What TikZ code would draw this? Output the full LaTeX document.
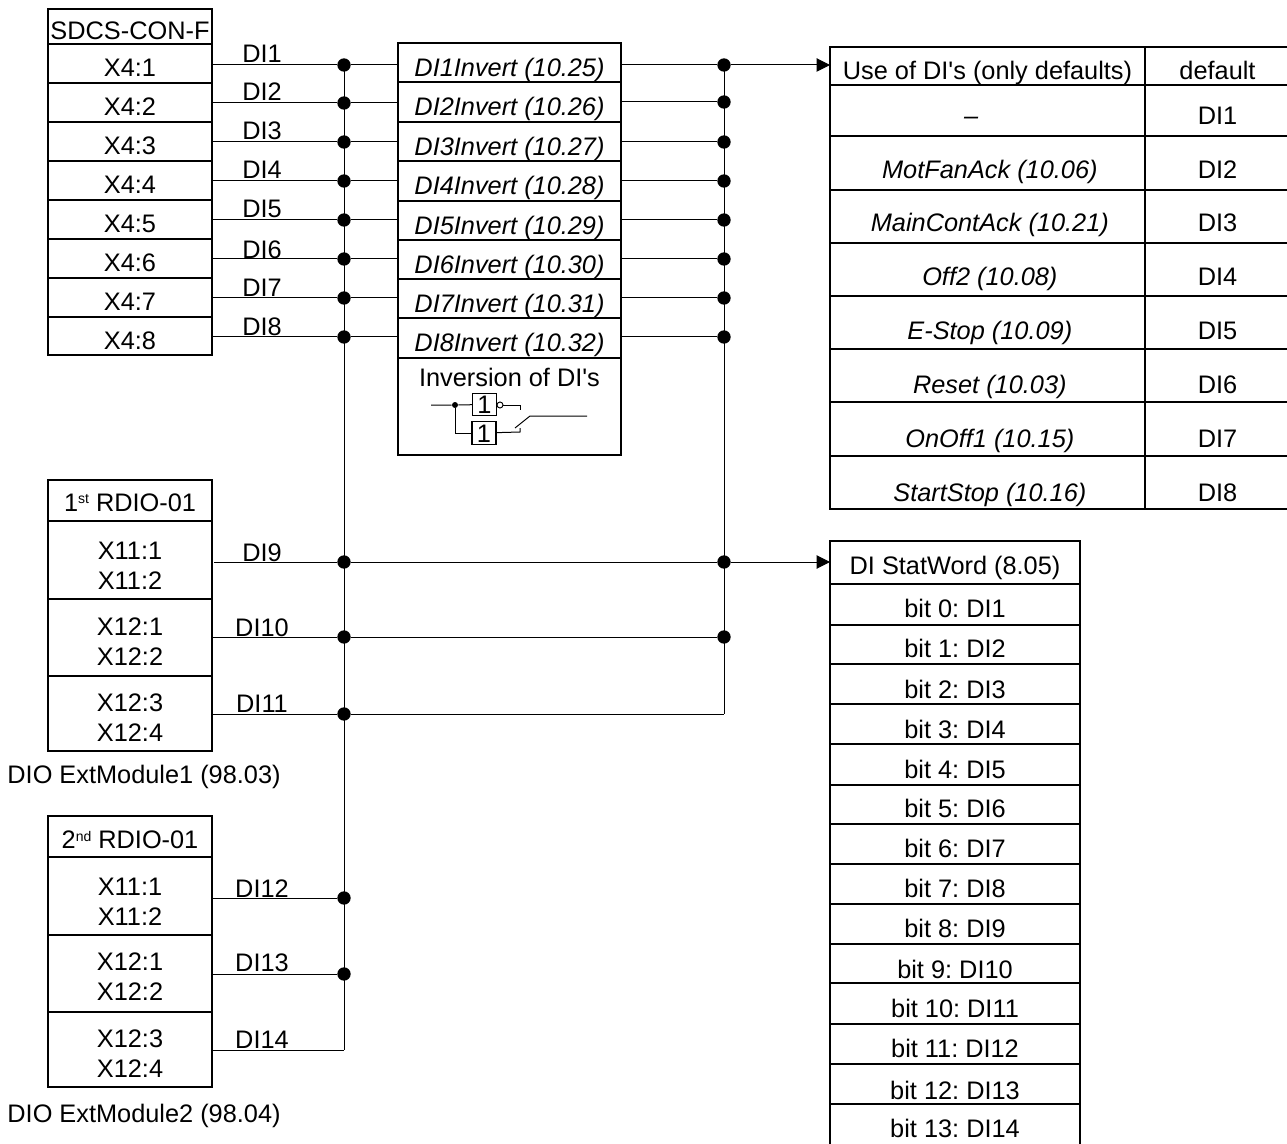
\documentclass[tikz,border=0pt]{standalone}
\usepackage{fontspec}
\setmainfont{Liberation Sans}[Ligatures=TeXOff]
\usetikzlibrary{arrows.meta}

\tikzset{
  wire/.style={line width=0.75pt},
  stub/.style={wire, shorten <=1.5pt},
  dot/.style={circle, fill=black, inner sep=0pt, minimum size=10pt},
  smalldot/.style={circle, fill=black, inner sep=0pt, minimum size=4.5pt},
  cell/.style={draw, line width=0.8pt, rectangle, inner sep=0pt, outer sep=0pt, text height=#1, text depth=0pt},
  cell/.default=20pt,
  conbox/.style={cell, minimum width=123pt},
  invbox/.style={cell=21pt, minimum width=167.25pt},
  headbox/.style={cell=#1, minimum width=236.25pt},
  usebox/.style={cell=#1, minimum width=236.25pt, font=\myfont\itshape, execute at begin node=\hspace*{3.5pt}},
  defbox/.style={cell=#1, minimum width=108.75pt},
  statbox/.style={cell=#1, minimum width=187.5pt},
  rowh/.style={minimum height=#1*0.75pt},
  gatebox/.style={cell=14pt, minimum width=18pt, minimum height=17pt}
}
\newcommand{\myfont}{\fontsize{19}{22.5}\selectfont\frenchspacing}
\newcommand{\upper}[1]{\raisebox{5.8pt}{\fontsize{10.5}{12}\selectfont #1}}

\begin{document}
\begin{tikzpicture}[x=0.75pt, y=-0.75pt, >={Stealth[inset=0pt, length=10pt, width=10pt]},
    every node/.append style={font=\myfont, inner sep=0pt}]

  \useasboundingbox (0,0) rectangle (1287,1144);

  % ============================================================
  % SDCS-CON-F
  % ============================================================

  \node[conbox, rowh=35] (con) at (130,26.5) {SDCS-CON-F};
  \node[conbox, rowh=39] (x1) at (130,63.5) {X4:1};
  \node[conbox, rowh=39] (x2) at (130,102.5) {X4:2};
  \node[conbox, rowh=39] (x3) at (130,141.5) {X4:3};
  \node[conbox, rowh=39] (x4) at (130,180.5) {X4:4};
  \node[conbox, rowh=39] (x5) at (130,219.5) {X4:5};
  \node[conbox, rowh=39] (x6) at (130,258.5) {X4:6};
  \node[conbox, rowh=39] (x7) at (130,297.5) {X4:7};
  \node[conbox, rowh=38] (x8) at (130,336) {X4:8};

  % Labels
  \node (l1) at (262,54) {DI1};
  \node (l2) at (262,92) {DI2};
  \node (l3) at (262,131) {DI3};
  \node (l4) at (262,170) {DI4};
  \node (l5) at (262,209) {DI5};
  \node (l6) at (262,250) {DI6};
  \node (l7) at (262,288) {DI7};
  \node (l8) at (262,327) {DI8};

  % ============================================================
  % Inversion
  % ============================================================

  \node[invbox, rowh=39] (inv1) at (509.5,62.5) {\itshape DI1Invert (10.25)};
  \node[invbox, rowh=40] (inv2) at (509.5,102) {\itshape DI2Invert (10.26)};
  \node[invbox, rowh=39] (inv3) at (509.5,141.5) {\itshape DI3Invert (10.27)};
  \node[invbox, rowh=40] (inv4) at (509.5,181) {\itshape DI4Invert (10.28)};
  \node[invbox, rowh=39] (inv5) at (509.5,220.5) {\itshape DI5Invert (10.29)};
  \node[invbox, rowh=39] (inv6) at (509.5,259.5) {\itshape DI6Invert (10.30)};
  \node[invbox, rowh=39] (inv7) at (509.5,298.5) {\itshape DI7Invert (10.31)};
  \node[invbox, rowh=40] (inv8) at (509.5,338) {\itshape DI8Invert (10.32)};
  \node[cell, minimum width=167.25pt, minimum height=72.75pt] (invnote) at (509.5,406.5) {};
  \node (invtxt) at (509.5,377) {Inversion of DI's};

  % Gate sketch
  \node[smalldot] (gdot) at (455,405) {};
  \node[gatebox] (gate1) at (484.5,404.5) {1};
  \node[gatebox] (gate2) at (484,433) {1};
  \node[circle, draw, line width=0.7pt, inner sep=0pt, minimum size=4.5pt] (gnot) at (500,405) {};
  \coordinate (gin) at (431,405);
  \coordinate (gup) at (520,405);
  \coordinate (gdown) at (520,432);
  \draw[wire] (gin) -- (gdot) -- (gate1);
  \draw[wire] (gdot) |- (gate2);
  \draw[wire] (gnot) -- (gup) -- ++(0,5);
  \draw[wire] (gate2) -- (gdown) -- ++(0,-4);
  \draw[wire] (515,428) -- (530,416) -- (587,416);

  % ============================================================
  % 1st RDIO-01
  % ============================================================

  \node[conbox, rowh=41] (ra) at (130,500.5) {};
  \node (ratxt) at (130,503) {1\upper{st} RDIO-01};
  \node[conbox, rowh=78] (ra1) at (130,560) {};
  \node[align=center] (ra1txt) at (130,566) {X11:1\\X11:2};
  \node[conbox, rowh=77] (ra2) at (130,637.5) {};
  \node[align=center] (ra2txt) at (130,641.5) {X12:1\\X12:2};
  \node[conbox, rowh=75] (ra3) at (130,713.5) {};
  \node[align=center] (ra3txt) at (130,717.5) {X12:3\\X12:4};
  \node (l9) at (262,553) {DI9};
  \node (l10) at (262,628) {DI10};
  \node (l11) at (262,704) {DI11};
  \node (mod1) at (144,777) {DIO ExtModule1 (98.03)};

  % ============================================================
  % 2nd RDIO-01
  % ============================================================

  \node[conbox, rowh=41] (rb) at (130,836.5) {};
  \node (rbtxt) at (130,840) {2\upper{nd} RDIO-01};
  \node[conbox, rowh=78] (rb1) at (130,896) {};
  \node[align=center] (rb1txt) at (130,902) {X11:1\\X11:2};
  \node[conbox, rowh=77] (rb2) at (130,973.5) {};
  \node[align=center] (rb2txt) at (130,977) {X12:1\\X12:2};
  \node[conbox, rowh=75] (rb3) at (130,1049.5) {};
  \node[align=center] (rb3txt) at (130,1053.5) {X12:3\\X12:4};
  \node (l12) at (262,889) {DI12};
  \node (l13) at (262,963) {DI13};
  \node (l14) at (262,1040) {DI14};
  \node (mod2) at (144,1116) {DIO ExtModule2 (98.04)};

  % ============================================================
  % Use of DI's
  % ============================================================

  \node[headbox=19.6pt, rowh=38] (use) at (987.5,66) {Use of DI's (only defaults)};
  \node[defbox=19.6pt, rowh=38] (def) at (1217.5,66) {default};
  \node[usebox=20.4pt, rowh=51] (use1) at (987.5,110.5) {–\hspace*{28pt}};
  \node[defbox=20.4pt, rowh=51] (def1) at (1217.5,110.5) {DI1};
  \node[usebox=23.5pt, rowh=54] (use2) at (987.5,163) {MotFanAck (10.06)};
  \node[defbox=23.5pt, rowh=54] (def2) at (1217.5,163) {DI2};
  \node[usebox=22.8pt, rowh=53] (use3) at (987.5,216.5) {MainContAck (10.21)};
  \node[defbox=22.8pt, rowh=53] (def3) at (1217.5,216.5) {DI3};
  \node[usebox=24.4pt, rowh=53] (use4) at (987.5,269.5) {Off2 (10.08)};
  \node[defbox=24.4pt, rowh=53] (def4) at (1217.5,269.5) {DI4};
  \node[usebox=25.8pt, rowh=53] (use5) at (987.5,322.5) {E-Stop (10.09)};
  \node[defbox=25.8pt, rowh=53] (def5) at (1217.5,322.5) {DI5};
  \node[usebox=26.4pt, rowh=53] (use6) at (987.5,375.5) {Reset (10.03)};
  \node[defbox=26.4pt, rowh=53] (def6) at (1217.5,375.5) {DI6};
  \node[usebox=27.1pt, rowh=54] (use7) at (987.5,429) {OnOff1 (10.15)};
  \node[defbox=27.1pt, rowh=54] (def7) at (1217.5,429) {DI7};
  \node[usebox=27.9pt, rowh=53] (use8) at (987.5,482.5) {StartStop (10.16)};
  \node[defbox=27.9pt, rowh=53] (def8) at (1217.5,482.5) {DI8};

  % ============================================================
  % DI StatWord
  % ============================================================

  \node[statbox=17.4pt, rowh=43] (stat) at (955,562.5) {DI StatWord (8.05)};
  \node[statbox=18.9pt, rowh=41] (b0) at (955,604.5) {bit 0: DI1};
  \node[statbox=18.9pt, rowh=39] (b1) at (955,644.5) {bit 1: DI2};
  \node[statbox=21.1pt, rowh=40] (b2) at (955,684) {bit 2: DI3};
  \node[statbox=21.1pt, rowh=40] (b3) at (955,724) {bit 3: DI4};
  \node[statbox=20.4pt, rowh=41] (b4) at (955,764.5) {bit 4: DI5};
  \node[statbox=18.9pt, rowh=39] (b5) at (955,804.5) {bit 5: DI6};
  \node[statbox=19.6pt, rowh=40] (b6) at (955,844) {bit 6: DI7};
  \node[statbox=19.6pt, rowh=40] (b7) at (955,884) {bit 7: DI8};
  \node[statbox=19.6pt, rowh=40] (b8) at (955,924) {bit 8: DI9};
  \node[statbox=21.9pt, rowh=39] (b9) at (955,963.5) {bit 9: DI10};
  \node[statbox=20.4pt, rowh=41] (b10) at (955,1003.5) {bit 10: DI11};
  \node[statbox=19.6pt, rowh=40] (b11) at (955,1044) {bit 11: DI12};
  \node[statbox=22.6pt, rowh=40] (b12) at (955,1084) {bit 12: DI13};
  \node[statbox=16.6pt, rowh=44] (b13) at (955,1126) {bit 13: DI14};

  % ============================================================
  % Junctions
  % ============================================================

  \node[dot] (j1) at (344,65) {};
  \node[dot] (j2) at (344,103) {};
  \node[dot] (j3) at (344,142) {};
  \node[dot] (j4) at (344,181) {};
  \node[dot] (j5) at (344,220) {};
  \node[dot] (j6) at (344,259) {};
  \node[dot] (j7) at (344,298) {};
  \node[dot] (j8) at (344,337) {};
  \node[dot] (j9) at (344,562) {};
  \node[dot] (j10) at (344,637) {};
  \node[dot] (j11) at (344,714) {};
  \node[dot] (j12) at (344,898) {};
  \node[dot] (j13) at (344,974) {};
  \coordinate (j14) at (344,1050);

  \node[dot] (k1) at (724,65) {};
  \node[dot] (k2) at (724,102) {};
  \node[dot] (k3) at (724,142) {};
  \node[dot] (k4) at (724,181) {};
  \node[dot] (k5) at (724,220) {};
  \node[dot] (k6) at (724,259) {};
  \node[dot] (k7) at (724,298) {};
  \node[dot] (k8) at (724,337) {};
  \node[dot] (k9) at (724,562) {};
  \node[dot] (k10) at (724,637) {};
  \coordinate (k11) at (724,714);

  % ============================================================
  % Wires
  % ============================================================

  % Busses
  \draw[wire] (j1.center) -- (j14);
  \draw[wire] (k1.center) -- (k11);

  % From the connectors
  \draw[wire] (x1.east |- j1) -- (j1);
  \draw[wire] (x2.east |- j2) -- (j2);
  \draw[wire] (x3.east |- j3) -- (j3);
  \draw[wire] (x4.east |- j4) -- (j4);
  \draw[wire] (x5.east |- j5) -- (j5);
  \draw[wire] (x6.east |- j6) -- (j6);
  \draw[wire] (x7.east |- j7) -- (j7);
  \draw[wire] (x8.east |- j8) -- (j8);
  \draw[stub] (ra1.east |- j9) -- (j9);
  \draw[wire] (ra2.east |- j10) -- (j10);
  \draw[wire] (ra3.east |- j11) -- (j11);
  \draw[wire] (rb1.east |- j12) -- (j12);
  \draw[wire] (rb2.east |- j13) -- (j13);
  \draw[wire] (rb3.east |- j14) -- (j14);

  % Through the inversion
  \draw[wire] (j1) -- (inv1.west |- j1);
  \draw[wire] (j2) -- (inv2.west |- j2);
  \draw[wire] (j3) -- (inv3.west |- j3);
  \draw[wire] (j4) -- (inv4.west |- j4);
  \draw[wire] (j5) -- (inv5.west |- j5);
  \draw[wire] (j6) -- (inv6.west |- j6);
  \draw[wire] (j7) -- (inv7.west |- j7);
  \draw[wire] (j8) -- (inv8.west |- j8);
  \draw[wire] (inv1.east |- k1) -- (k1);
  \draw[wire] (inv2.east |- k2) -- (k2);
  \draw[wire] (inv3.east |- k3) -- (k3);
  \draw[wire] (inv4.east |- k4) -- (k4);
  \draw[wire] (inv5.east |- k5) -- (k5);
  \draw[wire] (inv6.east |- k6) -- (k6);
  \draw[wire] (inv7.east |- k7) -- (k7);
  \draw[wire] (inv8.east |- k8) -- (k8);

  % Straight across
  \draw[wire] (j9) -- (k9);
  \draw[wire] (j10) -- (k10);
  \draw[wire] (j11) -- (k11);

  % Outputs
  \draw[wire, ->] (k1) -- (use.west |- k1);
  \draw[wire, ->] (k9) -- (stat.west |- k9);

\end{tikzpicture}
\end{document}
